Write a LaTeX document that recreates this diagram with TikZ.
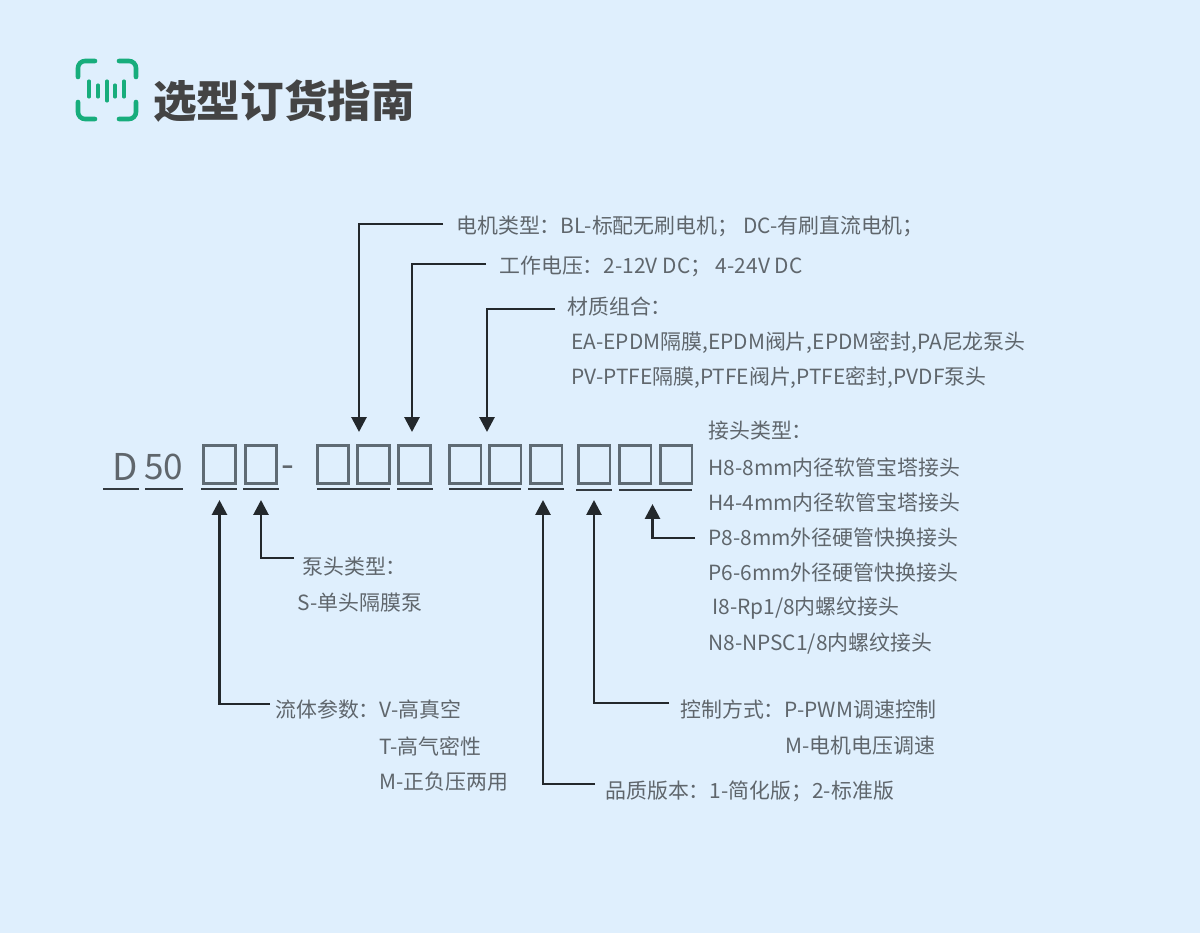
\documentclass[tikz,border=0pt]{standalone}
\usepackage{fontspec}
\setmainfont{Noto Sans CJK SC}
\usepackage{xcolor}
\usetikzlibrary{arrows.meta,positioning,calc}
\definecolor{pagebg}{HTML}{DFEFFD}
\definecolor{labelgray}{HTML}{5F666C}
\definecolor{boxgray}{HTML}{5F6B74}
\definecolor{linedark}{HTML}{333A40}
\definecolor{arrowdark}{HTML}{23282C}
\definecolor{logogreen}{HTML}{17AD7C}
\definecolor{titlegray}{HTML}{444444}
\tikzset{
  spec/.style={anchor=west, inner sep=0pt, text=labelgray, font=\fontsize{11.9pt}{11.9pt}\selectfont},
  slot/.style={draw=boxgray, line width=1.5pt, minimum width=18pt, minimum height=21.5pt, inner sep=0pt, outer sep=0pt},
  underrule/.style={draw=linedark, line width=1.6pt},
  lead/.style={draw=arrowdark, line width=1.6pt, -{Triangle[width=8.5pt,length=8.5pt]}},
  logoline/.style={draw=logogreen, line width=2.6pt, line cap=round},
}
\begin{document}
\begin{tikzpicture}[x=0.02cm,y=-0.02cm]
  \useasboundingbox (0,0) rectangle (1200,933);
  \fill[pagebg] (0,0) rectangle (1200,933);
  % logo
  \draw[logoline, rounded corners=4pt] (95,61) -- (78,61) -- (78,77);
  \draw[logoline, rounded corners=4pt] (119,61) -- (136,61) -- (136,77);
  \draw[logoline, rounded corners=4pt] (78,102) -- (78,119) -- (95,119);
  \draw[logoline, rounded corners=4pt] (136,102) -- (136,119) -- (119,119);
  \draw[logoline, line width=1.8pt] (89,81) -- (89,97);
  \draw[logoline, line width=1.8pt] (98,85) -- (98,97);
  \draw[logoline, line width=1.8pt] (107,81) -- (107,101);
  \draw[logoline, line width=1.8pt] (115,85) -- (115,97);
  \draw[logoline, line width=1.8pt] (124,81) -- (124,97);
  \node[anchor=west, inner sep=0pt, text=titlegray, font=\fontsize{24.8pt}{24.8pt}\selectfont\bfseries] (title) at (153,101) {选型订货指南};
  % code
  \node[spec, font=\fontsize{21pt}{21pt}\selectfont] (codeD) at (112,467) {D};
  \node[spec, font=\fontsize{20pt}{20pt}\selectfont] (code50) at (144,467) {50};
  \node[spec, font=\fontsize{21pt}{21pt}\selectfont] (dash) at (281,472) {-};
  \foreach \name/\px in {a/219.5,b/261,c/333,d/373.5,e/414.5,f/465,g/505,h/546,i/594,j/635,k/676}
    \node[slot] (slot\name) at (\px,464.5) {};
  \draw[underrule] (103,489) -- (139,489);
  \draw[underrule] (145,489) -- (183,489);
  \draw[underrule] (201,489) -- (237,489);
  \draw[underrule] (243,489) -- (279,489);
  \draw[underrule] (317,489) -- (390,489);
  \draw[underrule] (397,489) -- (433,489);
  \draw[underrule] (449,489) -- (521,489);
  \draw[underrule] (528,489) -- (564,489);
  \draw[underrule] (576,490) -- (612,490);
  \draw[underrule] (619,490) -- (692,490);
  % labels top
  \node[spec] (motor) at (456,226) {电机类型：BL-标配无刷电机； DC-有刷直流电机；};
  \node[spec] (volt) at (499,266) {工作电压：2-12V DC； 4-24V DC};
  \node[spec] (matl) at (567,307) {材质组合：};
  \node[spec] (matla) at (571,343) {EA-EPDM隔膜,EPDM阀片,EPDM密封,PA尼龙泵头};
  \node[spec] (matlb) at (571,378) {PV-PTFE隔膜,PTFE阀片,PTFE密封,PVDF泵头};
  % labels right
  \node[spec] (joint) at (708,431) {接头类型：};
  \node[spec] (jointa) at (708,467) {H8-8mm内径软管宝塔接头};
  \node[spec] (jointb) at (708,502) {H4-4mm内径软管宝塔接头};
  \node[spec] (jointc) at (708,538) {P8-8mm外径硬管快换接头};
  \node[spec] (jointd) at (708,573) {P6-6mm外径硬管快换接头};
  \node[spec] (jointe) at (712,608) {I8-Rp1/8内螺纹接头};
  \node[spec] (jointf) at (708,644) {N8-NPSC1/8内螺纹接头};
  % labels bottom
  \node[spec] (pump) at (302,567) {泵头类型：};
  \node[spec] (pumpa) at (297,603) {S-单头隔膜泵};
  \node[spec] (fluid) at (275,710) {流体参数：V-高真空};
  \node[spec] (fluidb) at (379,746) {T-高气密性};
  \node[spec] (fluidc) at (379,782) {M-正负压两用};
  \node[spec] (ctrl) at (680,710) {控制方式：P-PWM调速控制};
  \node[spec] (ctrlb) at (785,746) {M-电机电压调速};
  \node[spec] (grade) at (605,791) {品质版本：1-简化版；2-标准版};
  % free ends
  \coordinate (tipmotor) at (359,432);
  \coordinate (tipvolt) at (412,432);
  \coordinate (tipmatl) at (487,432);
  \coordinate (tipfluid) at (219.5,500);
  \coordinate (tippump) at (261,500);
  \coordinate (tipgrade) at (543,500);
  \coordinate (tipctrl) at (594,500);
  \coordinate (tipjoint) at (652.5,504);
  % connectors
  \draw[lead] ([shift={(-13,-2)}]motor.west) -| (tipmotor);
  \draw[lead] ([shift={(-13,-2)}]volt.west) -| (tipvolt);
  \draw[lead] ([shift={(-12,2)}]matl.west) -| (tipmatl);
  \draw[lead] ([shift={(-5,-6)}]fluid.west) -| (tipfluid);
  \draw[lead] ([shift={(-8,-9)}]pump.west) -| (tippump);
  \draw[lead] ([shift={(-10,-7)}]grade.west) -| (tipgrade);
  \draw[lead] ([shift={(-11,-7)}]ctrl.west) -| (tipctrl);
  \draw[lead] ([shift={(-13,0)}]jointc.west) -| (tipjoint);
\end{tikzpicture}
\end{document}
